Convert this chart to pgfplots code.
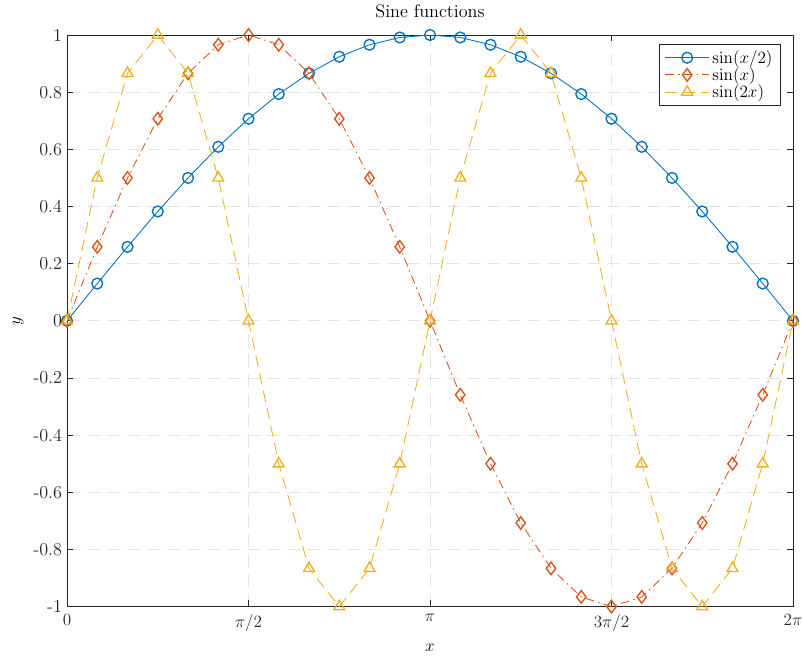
\documentclass[border=0pt]{standalone}
\usepackage{pgfplots}
\pgfplotsset{compat=1.18}
\usepackage{pgfplotstable}
\definecolor{mblue}{rgb}{0,0.447,0.741}
\definecolor{mred}{rgb}{0.85,0.325,0.098}
\definecolor{myellow}{rgb}{0.929,0.694,0.125}
\definecolor{axc}{rgb}{0.15,0.15,0.15}
\pgfplotstableread{
x a b c
0.0000 0.0000 0.0000 0.0000
0.2618 0.1305 0.2588 0.5000
0.5236 0.2588 0.5000 0.8660
0.7854 0.3827 0.7071 1.0000
1.0472 0.5000 0.8660 0.8660
1.3090 0.6088 0.9659 0.5000
1.5708 0.7071 1.0000 0.0000
1.8326 0.7934 0.9659 -0.5000
2.0944 0.8660 0.8660 -0.8660
2.3562 0.9239 0.7071 -1.0000
2.6180 0.9659 0.5000 -0.8660
2.8798 0.9914 0.2588 -0.5000
3.1416 1.0000 0.0000 0.0000
3.4034 0.9914 -0.2588 0.5000
3.6652 0.9659 -0.5000 0.8660
3.9270 0.9239 -0.7071 1.0000
4.1888 0.8660 -0.8660 0.8660
4.4506 0.7934 -0.9659 0.5000
4.7124 0.7071 -1.0000 0.0000
4.9742 0.6088 -0.9659 -0.5000
5.2360 0.5000 -0.8660 -0.8660
5.4978 0.3827 -0.7071 -1.0000
5.7596 0.2588 -0.5000 -0.8660
6.0214 0.1305 -0.2588 -0.5000
6.2832 0.0000 0.0000 0.0000
}\data
\newcommand{\fs}{\fontsize{12.7}{15}\selectfont}
\begin{document}
\begin{tikzpicture}
\begin{axis}[
  name=ax,
  scale only axis,
  width=508pt, height=400pt,
  xmin=0, xmax=6.2832, ymin=-1, ymax=1,
  font=\fs,
  xtick={0,1.5708,3.1416,4.7124,6.2832},
  xticklabels={$0$,$\pi/2$,$\pi$,$3\pi/2$,$2\pi$},
  ytick={-1,-0.8,-0.6,-0.4,-0.2,0,0.2,0.4,0.6,0.8,1},
  yticklabels={-1,-0.8,-0.6,-0.4,-0.2,0,0.2,0.4,0.6,0.8,1},
  tick align=inside,
  major tick length=4.5pt,
  axis line style={axc, line width=0.5pt},
  tick style={axc, line width=0.5pt},
  ticklabel style={text=axc, font=\fs},
  xticklabel style={yshift=-2pt},
  grid=major,
  major grid style={gray!22, line width=0.5pt, dash pattern=on 9pt off 5pt},
  title={Sine functions},
  title style={at={(axis description cs:0.5,1.026)}, anchor=center, font=\fs},
  xlabel={$x$}, ylabel={$y$},
  xlabel style={at={(axis description cs:0.5,-0.0718)}, anchor=center, font=\fs},
  ylabel style={at={(axis description cs:-0.0675,0.5)}, anchor=center, font=\fs},
  legend style={at={(0.983,0.984)}, anchor=north east, draw=axc, line width=0.5pt, font=\fs, inner xsep=3.5pt, inner ysep=2pt, row sep=-2.5pt},
  legend cell align=left,
  legend image code/.code={\draw[mark repeat=2,mark phase=2] plot coordinates {(0cm,0cm)(0.54cm,0cm)(1.08cm,0cm)};},
]
\addplot[mblue, line width=0.6pt, mark=o, mark size=3.8pt, mark options={solid, line width=0.95pt}] table[x=x,y=a] {\data};
\addplot[mred, line width=0.6pt, dash pattern=on 6pt off 3pt on 1pt off 3pt, mark=diamond, mark size=4.4pt, mark options={solid, line width=0.95pt}] table[x=x,y=b] {\data};
\addplot[myellow, line width=0.6pt, dash pattern=on 8pt off 4.5pt, mark=triangle, mark size=4.4pt, mark options={solid, line width=0.95pt}] table[x=x,y=c] {\data};
\legend{$\sin(x/2)$,$\sin(x)$,$\sin(2x)$}
\end{axis}
\pgfresetboundingbox
\path ([xshift=-46.9pt,yshift=-34.3pt]ax.south west) rectangle ([xshift=7pt,yshift=24.5pt]ax.north east);
\end{tikzpicture}
\end{document}
